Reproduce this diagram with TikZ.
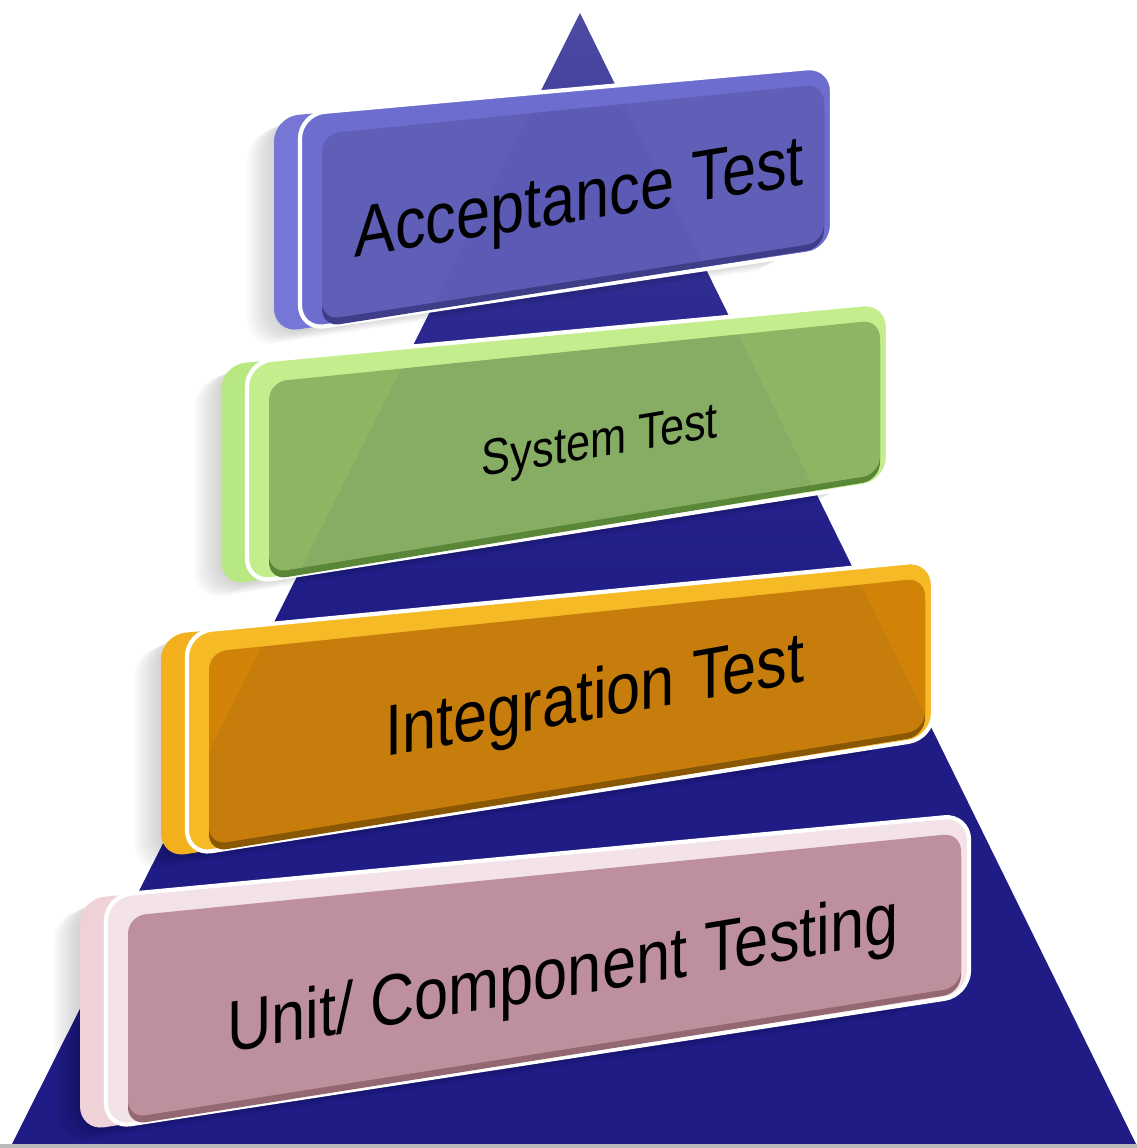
\documentclass[tikz,border=0pt]{standalone}
\usepackage{fontspec}
\setmainfont{Liberation Sans}
\usetikzlibrary{calc}

% pyramid body
\definecolor{pyrTop}{HTML}{4C4CA4}
\definecolor{pyrMid}{HTML}{2C2A90}
\definecolor{pyrBot}{HTML}{1F1C86}
\pgfdeclareverticalshading{pyramid}{100bp}{%
  color(0bp)=(pyrBot); color(25bp)=(pyrBot); color(48bp)=(pyrBot);
  color(62bp)=(pyrMid); color(75bp)=(pyrTop); color(100bp)=(pyrTop)}
% tier colours: back slab, bevel, face, lower edge
\definecolor{accB}{HTML}{7676D6}
\definecolor{accV}{HTML}{6D6DD0}
\definecolor{accF}{HTML}{5F5FB8}
\definecolor{accE}{HTML}{3E3E88}
\definecolor{sysB}{HTML}{B8E882}
\definecolor{sysV}{HTML}{C4EE8E}
\definecolor{sysF}{HTML}{8DB563}
\definecolor{sysE}{HTML}{5A8638}
\definecolor{intB}{HTML}{F2B11C}
\definecolor{intV}{HTML}{F5BA26}
\definecolor{intF}{HTML}{D08306}
\definecolor{intE}{HTML}{8A5704}
\definecolor{unitB}{HTML}{EFD2D8}
\definecolor{unitV}{HTML}{F3E2E7}
\definecolor{unitF}{HTML}{C7979F}
\definecolor{unitE}{HTML}{946873}

\tikzset{
  lbl/.style={font=\fontsize{20.5}{24}\selectfont, text=black, inner sep=0pt,
              anchor=base, xscale=.85, transform shape},
}

\begin{document}
\begin{tikzpicture}[x=0.01cm, y=-0.01cm]
\useasboundingbox (0,0) rectangle (1137,1148);

% pyramid
\coordinate (apex) at (580,13);
\coordinate (baseL) at (12,1144);
\coordinate (baseR) at (1136,1144);
\shade[shading=pyramid] (apex) -- (baseR) -- (baseL) -- cycle;
\fill[gray!55] (0,1144) rectangle (1137,1148);

% front-slab corners of each tier
\coordinate (atl) at (300,114);  \coordinate (atr) at (832,66);
\coordinate (abr) at (832,250);  \coordinate (abl) at (300,330);
\coordinate (stl) at (247,362);  \coordinate (str) at (888,302);
\coordinate (sbr) at (888,482);  \coordinate (sbl) at (247,583);
\coordinate (itl) at (187,632);  \coordinate (itr) at (933,560);
\coordinate (ibr) at (933,738);  \coordinate (ibl) at (187,855);
\coordinate (utl) at (106,896);  \coordinate (utr) at (969,815);
\coordinate (ubr) at (969,995);  \coordinate (ubl) at (106,1128);

\foreach \p/\cb/\cv/\cf/\ce in {a/accB/accV/accF/accE, s/sysB/sysV/sysF/sysE,
                                 i/intB/intV/intF/intE, u/unitB/unitV/unitF/unitE} {
  % soft shadow on the left
  \foreach \s in {3,6,...,27} {
    \fill[black, opacity=.018, rounded corners=8pt]
      ($(\p tl)+(-26-\s,4+\s/2)$) -- ($(\p tr)+(-26-\s,4+\s/2)$) --
      ($(\p br)+(-26-\s,4+\s/2)$) -- ($(\p bl)+(-26-\s,4+\s/2)$) -- cycle;
  }
  % back slab
  \fill[\cb, rounded corners=7pt]
    ($(\p tl)+(-26,3)$) -- ($(\p tr)+(-26,3)$) --
    ($(\p br)+(-26,3)$) -- ($(\p bl)+(-26,3)$) -- cycle;
  % front slab with white rim
  \filldraw[fill=\cv, draw=white, line width=1.2pt, rounded corners=7pt]
    (\p tl) -- (\p tr) -- (\p br) -- (\p bl) -- cycle;
  % darker lower edge
  \fill[\ce, rounded corners=5pt]
    ($(\p tl)+(22,26)$) -- ($(\p tr)+(-8,24)$) --
    ($(\p br)+(-8,-2)$) -- ($(\p bl)+(22,-3)$) -- cycle;
  % face
  \fill[\cf, rounded corners=5pt]
    ($(\p tl)+(22,20)$) -- ($(\p tr)+(-8,18)$) --
    ($(\p br)+(-8,-8)$) -- ($(\p bl)+(22,-10)$) -- cycle;
  % pyramid faintly seen through the face
  \begin{scope}
    \clip[rounded corners=5pt]
      ($(\p tl)+(22,20)$) -- ($(\p tr)+(-8,18)$) --
      ($(\p br)+(-8,-8)$) -- ($(\p bl)+(22,-10)$) -- cycle;
    \fill[pyrBot, opacity=.05] (apex) -- (baseR) -- (baseL) -- cycle;
  \end{scope}
}

% labels
\node[lbl, yslant=.138] (acc) at (579,221) {Acceptance Test};
\node[lbl, yslant=.142, font=\fontsize{14.5}{17}\selectfont] (sys) at (600,457) {System Test};
\node[lbl, yslant=.152] (int) at (595,719) {Integration Test};
\node[lbl, yslant=.14] (unit) at (563,997) {Unit/ Component Testing};
\end{tikzpicture}
\end{document}
